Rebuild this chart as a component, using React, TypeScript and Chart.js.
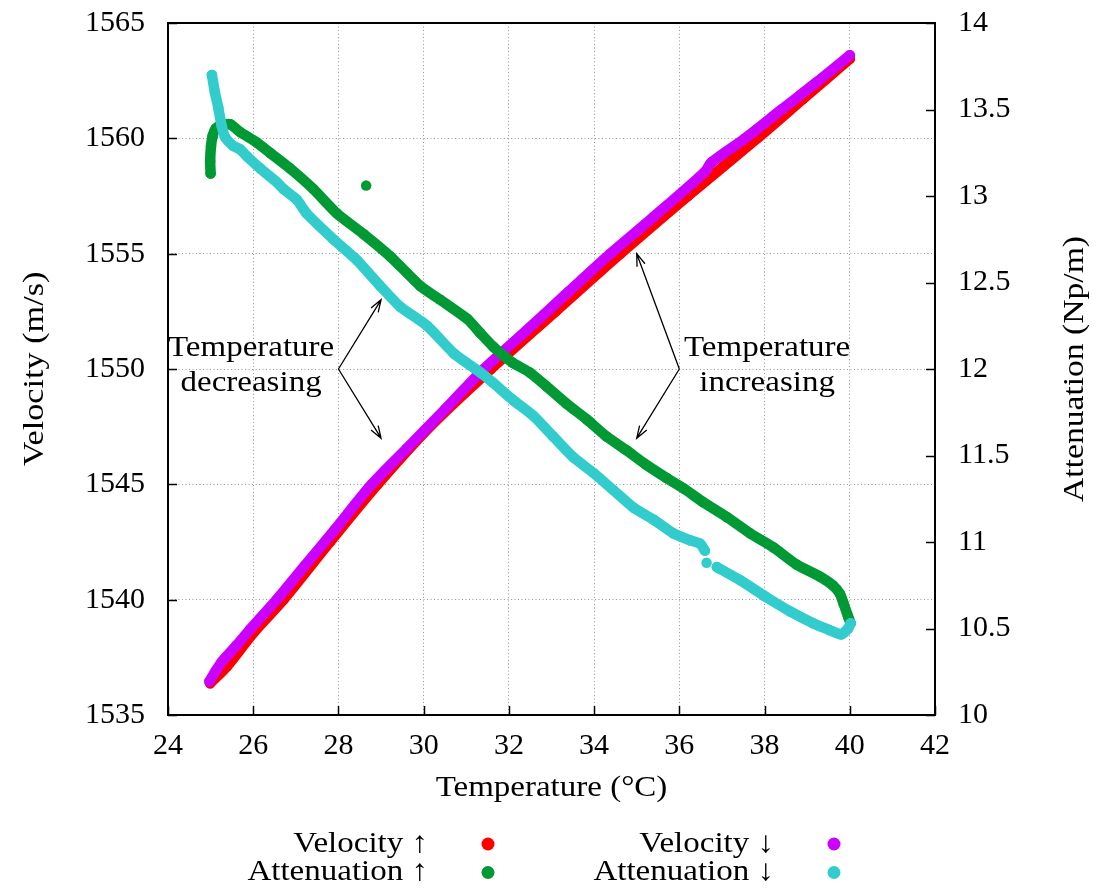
import React, { useEffect, useRef } from "react";
import { Chart, registerables } from "chart.js";

Chart.register(...registerables);

// ---------------- data ----------------
const velUpT = [24.99, 25.38, 26.0, 26.71, 27.8, 28.92, 30.2, 31.58, 33.1, 34.62, 36.2, 37.83, 38.9, 40.0];
const velUpV = [1536.38, 1537.1, 1538.55, 1540.0, 1542.5, 1545.0, 1547.6, 1550.0, 1552.5, 1555.0, 1557.5, 1560.0, 1561.7, 1563.45];

const velDownT = [24.97, 25.1, 25.26, 25.6, 25.92, 26.55, 27.2, 27.9, 28.78, 29.6, 30.5, 31.41, 32.4, 33.4, 34.38, 35.4, 36.6, 36.75, 37.54, 38.4, 39.2, 40.0];
const velDownV = [1536.45, 1536.85, 1537.3, 1538.0, 1538.7, 1540.0, 1541.45, 1543.0, 1545.0, 1546.55, 1548.25, 1550.0, 1551.65, 1553.35, 1555.0, 1556.6, 1558.55, 1558.95, 1560.0, 1561.25, 1562.4, 1563.6];

const attUpT = [25.0, 24.99, 25.01, 25.05, 25.12, 25.25, 25.46, 25.69, 26.08, 26.39, 26.86, 27.41, 27.96, 28.59, 29.22, 29.92, 30.39, 31.02, 31.32, 31.63, 32.1, 32.49, 32.88, 33.35, 33.82, 34.29, 34.76, 35.2, 35.7, 36.1, 36.56, 37.11, 37.66, 38.2, 38.75, 39.3, 39.6, 39.77, 39.86, 39.96, 40.02, null, 28.65];
const attUpA = [13.13, 13.2, 13.29, 13.35, 13.39, 13.41, 13.415, 13.37, 13.31, 13.25, 13.16, 13.04, 12.9, 12.78, 12.65, 12.48, 12.4, 12.29, 12.21, 12.13, 12.035, 11.98, 11.9, 11.8, 11.71, 11.61, 11.53, 11.45, 11.37, 11.31, 11.23, 11.145, 11.05, 10.97, 10.87, 10.8, 10.75, 10.7, 10.64, 10.57, 10.53, null, 13.06];

const attDownT = [25.03, 25.1, 25.18, 25.26, 25.34, 25.53, 25.69, 25.85, 26.16, 26.55, 26.71, 27.02, 27.25, 27.88, 28.43, 28.98, 29.45, 30.08, 30.71, 31.33, 31.63, 32.1, 32.57, 33.04, 33.51, 33.98, 34.45, 34.92, 35.39, 35.86, 36.25, 36.49, 36.6, null, 36.64, null, 36.88, 37.42, 38.05, 38.59, 39.14, 39.53, 39.8, 39.96, 40.02];
const attDownA = [13.7, 13.6, 13.51, 13.405, 13.34, 13.29, 13.27, 13.23, 13.16, 13.08, 13.04, 12.98, 12.9, 12.75, 12.63, 12.48, 12.36, 12.25, 12.09, 11.98, 11.92, 11.82, 11.73, 11.61, 11.49, 11.4, 11.3, 11.2, 11.13, 11.05, 11.01, 10.99, 10.95, null, 10.88, null, 10.855, 10.78, 10.68, 10.6, 10.53, 10.49, 10.466, 10.5, 10.53];

const xTickValues = [24, 26, 28, 30, 32, 34, 36, 38, 40, 42];
const velTickValues = [1535, 1540, 1545, 1550, 1555, 1560, 1565];
const attTickValues = [10, 10.5, 11, 11.5, 12, 12.5, 13, 13.5, 14];

const seriesLabels = ["Velocity ↑", "Attenuation ↑", "Velocity ↓", "Attenuation ↓"];
const seriesColors = ["#ff0000", "#009933", "#cc00ff", "#33cccc"];

const xTitle = "Temperature (°C)";
const yTitle = "Velocity (m/s)";
const y2Title = "Attenuation (Np/m)";
const noteLeft = ["Temperature", "decreasing"];
const noteRight = ["Temperature", "increasing"];

// ---------------- helpers ----------------
const FONT = '30px "Liberation Serif", "DejaVu Serif", serif';
const STRETCH = 1.1;

const toPoints = (xs: (number | null)[], ys: (number | null)[]) =>
  xs.map((x, i) => ({ x: x as any, y: ys[i] as any }));

function drawText(ctx: CanvasRenderingContext2D, s: string, x: number, y: number, align: CanvasTextAlign, rot = 0, stretch = STRETCH) {
  ctx.save();
  ctx.translate(x, y);
  if (rot) ctx.rotate(rot);
  ctx.scale(stretch, 1);
  ctx.font = FONT;
  ctx.fillStyle = "#000";
  ctx.textAlign = align;
  ctx.textBaseline = "alphabetic";
  ctx.fillText(s, 0, 0);
  ctx.restore();
}

function arrow(ctx: CanvasRenderingContext2D, x0: number, y0: number, x1: number, y1: number) {
  const ang = Math.atan2(y1 - y0, x1 - x0);
  const L = 13;
  const w = 0.33;
  ctx.beginPath();
  ctx.moveTo(x0, y0);
  ctx.lineTo(x1, y1);
  ctx.moveTo(x1 - L * Math.cos(ang - w), y1 - L * Math.sin(ang - w));
  ctx.lineTo(x1, y1);
  ctx.lineTo(x1 - L * Math.cos(ang + w), y1 - L * Math.sin(ang + w));
  ctx.stroke();
}

const decorPlugin = {
  id: "decor",
  afterDraw(chart: any) {
    const { ctx, chartArea: a, scales } = chart;
    const xs = scales.x;
    const ys = scales.y;
    const y2 = scales.y2;
    ctx.save();
    // inward tick marks
    ctx.strokeStyle = "#000";
    ctx.lineWidth = 1.5;
    ctx.beginPath();
    xTickValues.forEach((v) => {
      const p = Math.round(xs.getPixelForValue(v)) + 0.5;
      ctx.moveTo(p, a.bottom);
      ctx.lineTo(p, a.bottom - 9);
    });
    velTickValues.forEach((v) => {
      const p = Math.round(ys.getPixelForValue(v)) + 0.5;
      ctx.moveTo(a.left, p);
      ctx.lineTo(a.left + 9, p);
    });
    attTickValues.forEach((v) => {
      const p = Math.round(y2.getPixelForValue(v)) + 0.5;
      ctx.moveTo(a.right, p);
      ctx.lineTo(a.right - 9, p);
    });
    ctx.stroke();
    // frame
    ctx.lineWidth = 2;
    ctx.strokeRect(a.left, a.top, a.right - a.left, a.bottom - a.top);

    // annotations
    ctx.lineWidth = 1.3;
    const o1x = xs.getPixelForValue(28), o1y = ys.getPixelForValue(1550);
    arrow(ctx, o1x, o1y, xs.getPixelForValue(29), ys.getPixelForValue(1553));
    arrow(ctx, o1x, o1y, xs.getPixelForValue(29), ys.getPixelForValue(1547));
    const o2x = xs.getPixelForValue(36), o2y = ys.getPixelForValue(1550);
    arrow(ctx, o2x, o2y, xs.getPixelForValue(35), ys.getPixelForValue(1555));
    arrow(ctx, o2x, o2y, xs.getPixelForValue(35), ys.getPixelForValue(1547));
    const base = ys.getPixelForValue(1550.55);
    noteLeft.forEach((s, i) => drawText(ctx, s, xs.getPixelForValue(25.95), base + i * 35, "center"));
    noteRight.forEach((s, i) => drawText(ctx, s, xs.getPixelForValue(38.06), base + i * 35, "center"));

    // axis titles
    drawText(ctx, xTitle, (a.left + a.right) / 2, 796, "center");
    drawText(ctx, yTitle, 43, (a.top + a.bottom) / 2, "center", -Math.PI / 2, 1.14);
    drawText(ctx, y2Title, 1083, (a.top + a.bottom) / 2, "center", -Math.PI / 2, 1.12);

    // legend (gnuplot style: text then marker)
    const colText = [428, 774];
    const colDot = [488, 834];
    const rowBase = [852, 880];
    const rowDot = [844, 872.5];
    const layout = [
      [0, 0, 0],
      [1, 0, 1],
      [2, 1, 0],
      [3, 1, 1],
    ];
    layout.forEach(([di, c, r]) => {
      const ds = chart.data.datasets[di];
      drawText(ctx, ds.label, colText[c], rowBase[r], "right");
      ctx.beginPath();
      ctx.fillStyle = ds.borderColor;
      ctx.arc(colDot[c], rowDot[r], 6.5, 0, Math.PI * 2);
      ctx.fill();
    });
    ctx.restore();
  },
};

export default function App() {
  const ref = useRef<HTMLCanvasElement>(null);
  useEffect(() => {
    const series = [
      { t: velUpT, v: velUpV, axis: "y", order: 3, tension: 0.3 },
      { t: attUpT, v: attUpA, axis: "y2", order: 1, tension: 0.2 },
      { t: velDownT, v: velDownV, axis: "y", order: 2, tension: 0.3 },
      { t: attDownT, v: attDownA, axis: "y2", order: 0, tension: 0.2 },
    ];
    const datasets = series.map((s, i) => ({
      label: seriesLabels[i],
      data: toPoints(s.t, s.v),
      yAxisID: s.axis,
      order: s.order,
      showLine: true,
      spanGaps: false,
      borderColor: seriesColors[i],
      backgroundColor: seriesColors[i],
      borderWidth: 10.5,
      borderCapStyle: "round",
      borderJoinStyle: "round",
      tension: s.tension,
      pointRadius: 5.25,
      pointBorderWidth: 0,
      pointBackgroundColor: seriesColors[i],
    }));
    const tickFont = { family: '"Liberation Serif", "DejaVu Serif", serif', size: 30 };
    const noPadY = (w: number) => (s: any) => {
      s.width = w;
      s.paddingTop = 0;
      s.paddingBottom = 0;
    };
    const chart = new Chart(ref.current as HTMLCanvasElement, {
      type: "scatter",
      data: { datasets: datasets as any },
      plugins: [decorPlugin],
      options: {
        animation: false,
        responsive: false,
        devicePixelRatio: 1,
        events: [],
        layout: { padding: { top: 23, left: 0, right: 0, bottom: 0 } },
        plugins: { legend: { display: false }, tooltip: { enabled: false } },
        scales: {
          x: {
            type: "linear",
            position: "bottom",
            min: 24,
            max: 42,
            afterBuildTicks: (s: any) => {
              s.ticks = xTickValues.map((v) => ({ value: v }));
            },
            afterFit: (s: any) => {
              s.height = 175;
              s.paddingLeft = 0;
              s.paddingRight = 0;
            },
            grid: { color: "#999999", lineWidth: 1, drawTicks: false },
            border: { display: false, dash: [1, 2.5] },
            ticks: { font: tickFont, color: "#000", padding: 13, maxRotation: 0, autoSkip: false, callback: (v: any) => String(v) },
          },
          y: {
            type: "linear",
            position: "left",
            min: 1535,
            max: 1565,
            afterBuildTicks: (s: any) => {
              s.ticks = velTickValues.map((v) => ({ value: v }));
            },
            afterFit: noPadY(168),
            grid: { color: "#999999", lineWidth: 1, drawTicks: false },
            border: { display: false, dash: [1, 2.5] },
            ticks: { font: tickFont, color: "#000", padding: 23, autoSkip: false, callback: (v: any) => String(v) },
          },
          y2: {
            type: "linear",
            position: "right",
            min: 10,
            max: 14,
            afterBuildTicks: (s: any) => {
              s.ticks = attTickValues.map((v) => ({ value: v }));
            },
            afterFit: noPadY(161),
            grid: { display: false, drawTicks: false },
            border: { display: false },
            ticks: { font: tickFont, color: "#000", padding: 23, autoSkip: false, callback: (v: any) => String(v) },
          },
        },
      } as any,
    });
    return () => chart.destroy();
  }, []);
  return (
    <div style={{ position: "absolute", left: 0, top: 0, width: 1096, height: 890, background: "#fff" }}>
      <canvas ref={ref} width={1096} height={890} style={{ display: "block", width: 1096, height: 890 }} />
    </div>
  );
}
